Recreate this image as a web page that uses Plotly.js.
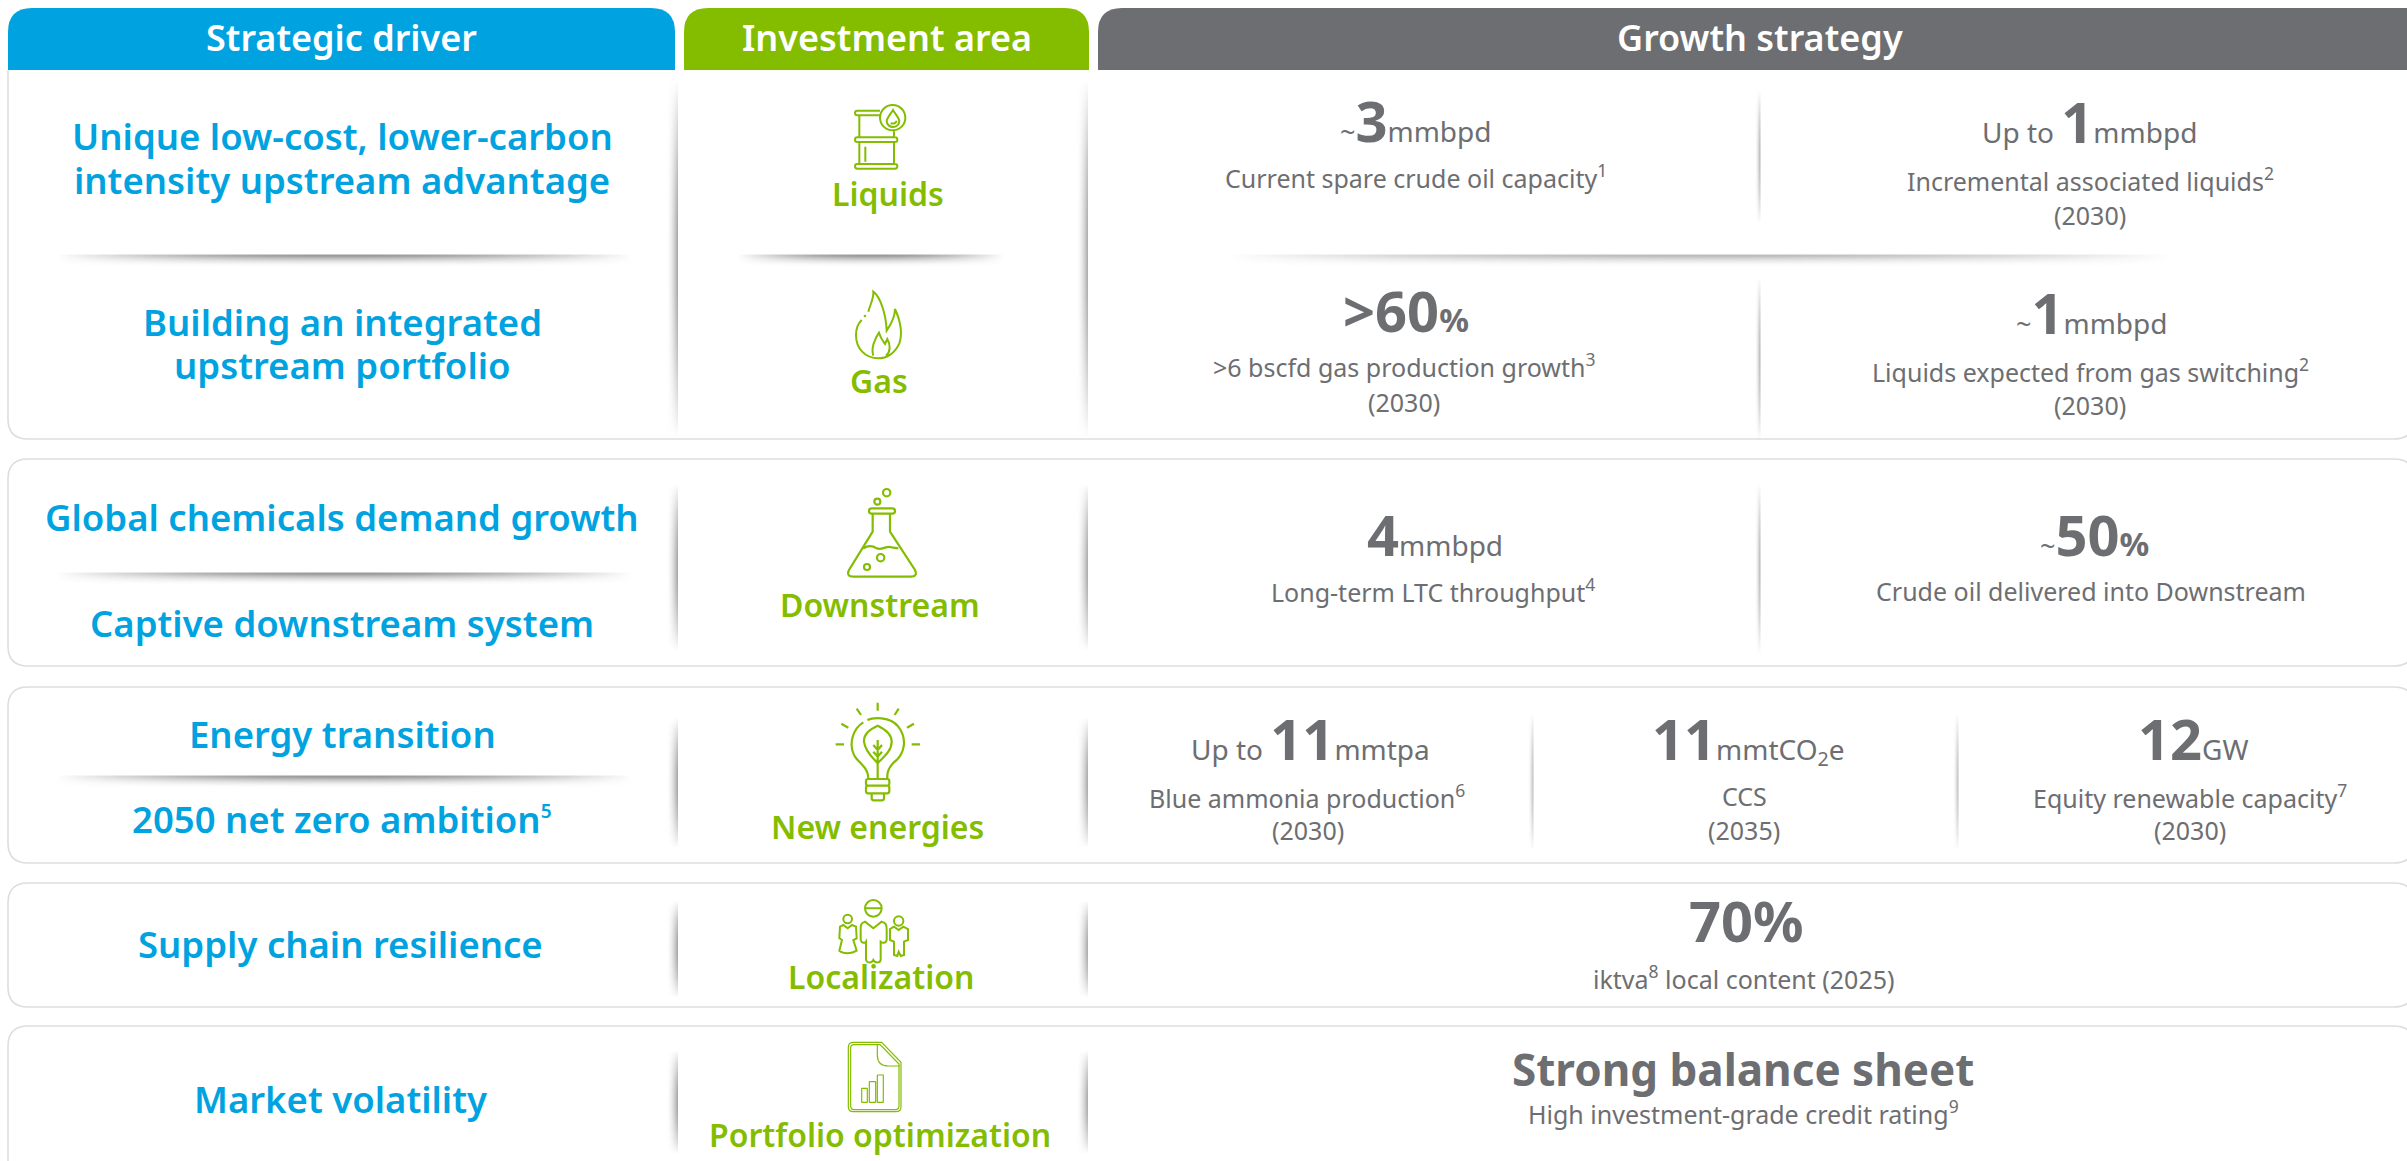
<!DOCTYPE html>
<html><head><meta charset="utf-8">
<script src="https://cdn.plot.ly/plotly-3.0.1.min.js"></script>
<style>html,body{margin:0;padding:0;background:#fff;overflow:hidden}</style>
</head><body><div id="chart" style="width:2407px;height:1161px"></div>
<script>
const BLUE='#00A3E0',GREEN='#84BD00',GRAY='#6D6E71',FONT='"Noto Sans","Open Sans",sans-serif';

// ---- text content ----
const headerLabels=['Strategic driver','Investment area','Growth strategy'];
const driverLabels=['Unique low-cost, lower-carbon','intensity upstream advantage','Building an integrated','upstream portfolio','Global chemicals demand growth','Captive downstream system','Energy transition','2050 net zero ambition<sup><span style="font-size:19px">5</span></sup>','Supply chain resilience','Market volatility'];
const areaLabels=['Liquids','Gas','Downstream','New energies','Localization','Portfolio optimization'];
const metricPrefix=['~','Up to ','>','~','','~','Up to ','','','',];
const metricValue=['3','1','60','1','4','50','11','11','12','70'];
const metricUnit=['mmbpd','mmbpd','%','mmbpd','mmbpd','%','mmtpa','mmtCO<sub>2</sub>e','GW','%'];
const metricDetail=['Current spare crude oil capacity<sup>1</sup>','Incremental associated liquids<sup>2</sup>','>6 bscfd gas production growth<sup>3</sup>','Liquids expected from gas switching<sup>2</sup>','Long-term LTC throughput<sup>4</sup>','Crude oil delivered into Downstream','Blue ammonia production<sup>6</sup>','CCS','Equity renewable capacity<sup>7</sup>','iktva<sup>8</sup> local content (2025)'];
const metricYear=['','(2030)','(2030)','(2030)','','','(2030)','(2035)','(2030)',''];
const balanceTitle='Strong balance sheet';
const balanceDetail='High investment-grade credit rating<sup>9</sup>';

// ---- layout positions (pixels of the 2407x1161 canvas) ----
const headerX=[341,887,1760];
const driverX=[342,342,342,342,342,342,342,342,340,340];
const driverY=[136,180,322,365,517,623,734,819,944,1099];
const areaX=[888,879,880,877,881,880];
const areaY=[193,380,604,826,976,1134];
const metricX=[1416,2089,1406,2092,1435,2094,1310,1748,2193,1746];
const metricBase=[141,142,331,333,555,555,759,759,759,941];
const detailX=[1416,2090,1404,2090,1433,2091,1307,1744,2190,1744];
const detailY=[176,179,365,370,590,591,796,796,796,977];
const yearX=[0,2090,1404,2090,0,0,1308,1744,2190,0];
const yearY=[0,215,402,405,0,0,830,830,830,0];

const ann=[];
function note(text,x,y,size,color,weight,yanchor){
  ann.push({text,x,y,xref:'x',yref:'y',showarrow:false,xanchor:'center',yanchor:yanchor||'middle',
    font:{family:FONT,size,color,weight:weight||400},borderpad:0,captureevents:false});
}
headerLabels.forEach((t,i)=>note(t,headerX[i],37,36,'#ffffff',600));
driverLabels.forEach((t,i)=>note(t,driverX[i],driverY[i],36.5,BLUE,600));
areaLabels.forEach((t,i)=>note(t,areaX[i],areaY[i],32,GREEN,600));
metricValue.forEach((v,i)=>{
  const pfx=metricPrefix[i];
  let p='';
  if(pfx==='>') p=`<b><span style="font-size:56px">&gt;</span></b>`;
  else if(pfx==='~') p=`<span style="font-size:27px">~</span>`;
  else if(pfx) p=`<span style="font-size:28px">${pfx}</span>`;
  const u=metricUnit[i];
  let us=`<span style="font-size:28px">${u}</span>`;
  if(u==='%') us = i===9 ? `<b><span style="font-size:56px">%</span></b>` : `<b><span style="font-size:33px">%</span></b>`;
  note(p+`<b><span style="font-size:56px">${v}</span></b>`+us,metricX[i],metricBase[i]-21,28,GRAY,400);
  note(metricDetail[i],detailX[i],detailY[i],25,GRAY,400);
  if(metricYear[i]) note(metricYear[i],yearX[i],yearY[i],25,GRAY,400);
});
note(balanceTitle,1743,1069,44,GRAY,700);
note(balanceDetail,1743,1112,25,GRAY,400);

// ---- shapes ----
const shapes=[];
function roundTop(x0,x1,y0,y1,r,color){
  shapes.push({type:'path',layer:'below',path:`M ${x0} ${y1} L ${x0} ${y0+r} Q ${x0} ${y0} ${x0+r} ${y0} L ${x1-r} ${y0} Q ${x1} ${y0} ${x1} ${y0+r} L ${x1} ${y1} Z`,fillcolor:color,line:{width:0}});
}
roundTop(8,675,8,70,24,BLUE);
roundTop(684,1089,8,70,24,GREEN);
roundTop(1098,2440,8,70,24,GRAY);
const R=20,PX0=8,PX1=2414,PLINE='#dedede';
function panel(y0,y1,openTop){
  const d=openTop?`M ${PX0} ${y0} L ${PX0} ${y1-R} Q ${PX0} ${y1} ${PX0+R} ${y1} L ${PX1-R} ${y1} Q ${PX1} ${y1} ${PX1} ${y1-R}`
    :`M ${PX1} ${y0+R} Q ${PX1} ${y0} ${PX1-R} ${y0} L ${PX0+R} ${y0} Q ${PX0} ${y0} ${PX0} ${y0+R} L ${PX0} ${y1-R} Q ${PX0} ${y1} ${PX0+R} ${y1} L ${PX1-R} ${y1} Q ${PX1} ${y1} ${PX1} ${y1-R}`;
  shapes.push({type:'path',layer:'below',path:d,line:{color:PLINE,width:1.6},fillcolor:'rgba(0,0,0,0)'});
}
panel(70,439,true);panel(459,666);panel(687,863);panel(883,1007);panel(1026,1190);

// icon paths are written in 3x-zoom units and placed with an offset
function place(d,ox,oy){let n=0;return d.replace(/-?\d+(\.\d+)?/g,m=>{const v=parseFloat(m)/3+(n++%2?oy:ox);return v.toFixed(2);});}
function circ(cx,cy,r){const k=r*0.5523;return `M ${cx-r} ${cy} C ${cx-r} ${cy-k} ${cx-k} ${cy-r} ${cx} ${cy-r} C ${cx+k} ${cy-r} ${cx+r} ${cy-k} ${cx+r} ${cy} C ${cx+r} ${cy+k} ${cx+k} ${cy+r} ${cx} ${cy+r} C ${cx-k} ${cy+r} ${cx-r} ${cy+k} ${cx-r} ${cy} Z `;}
function rrect(a,b,c,d,r){return `M ${a+r} ${b} L ${c-r} ${b} Q ${c} ${b} ${c} ${b+r} L ${c} ${d-r} Q ${c} ${d} ${c-r} ${d} L ${a+r} ${d} Q ${a} ${d} ${a} ${d-r} L ${a} ${b+r} Q ${a} ${b} ${a+r} ${b} Z `;}
function icon(d,ox,oy,w){shapes.push({type:'path',layer:'above',path:place(d,ox,oy),line:{color:GREEN,width:w||2},fillcolor:'rgba(0,0,0,0)'});}
// barrel
icon('M 300 62 L 232 62 Q 225 62 225 69 Q 225 76 232 76 L 302 76 '+rrect(225,142,352,156,7)+rrect(225,222,352,236,7)+'M 238 76 L 238 142 M 238 156 L 238 222 M 342 120 L 342 142 M 342 156 L 342 222 M 256 170 L 256 215 '+circ(338,83,38)+'M 339 60 C 330 75 320 85 320 93 C 320 104 330 111 339 111 C 349 111 358 104 358 93 C 358 85 348 75 339 60 Z M 332 100 C 340 102 348 100 350 92',780,90);
// flame
icon('M 265 665 C 270 645 282 625 280 605 C 300 620 318 670 320 722 C 335 700 345 680 345 657 C 360 690 368 730 358 760 C 345 790 320 805 295 805 C 255 805 228 775 228 735 C 228 715 235 700 245 690 M 252 680 L 258 676 M 280 797 C 272 775 285 745 297 728 C 302 745 310 755 315 762 L 322 747 C 332 765 332 785 318 797',780,90);
// flask
icon(rrect(267,85,345,101,8)+'M 278 101 L 278 155 L 207 270 Q 198 290 220 290 L 392 290 Q 414 290 405 270 L 330 155 L 330 101 M 250 205 C 265 195 280 198 290 205 C 305 212 320 195 335 202 L 355 205 '+circ(302,233,11)+circ(261,261,9)+circ(292,65,9)+circ(320,38,11),780,480,2.2);
// bulb
icon('M 293 668 L 293 692 M 230 686 L 243 705 M 356 686 L 344 705 M 184 731 L 205 743 M 402 731 L 381 743 M 167 793 L 192 793 M 395 793 L 420 793 M 262 720 C 278 712 330 708 355 740 C 385 780 370 820 350 840 C 330 855 320 870 322 895 M 250 727 C 220 745 205 790 222 825 C 235 850 265 860 265 895 '+rrect(258,897,328,917,6)+rrect(258,917,328,940,6)+'M 275 940 L 275 955 Q 275 961 281 961 L 306 961 Q 312 961 312 955 L 312 940 M 293 737 C 275 745 250 760 252 785 C 255 815 280 835 293 850 C 306 835 335 815 335 785 C 335 760 310 745 293 737 Z M 293 780 L 293 897 M 280 795 L 293 810 L 306 795 M 280 815 L 293 830 L 306 815',780,480,2.2);
// people
icon(circ(280,85,25)+'M 255 85 L 305 85 M 255 125 C 240 130 242 140 242 150 L 242 180 C 245 190 255 190 258 185 L 258 240 C 262 250 275 250 280 240 C 285 250 300 250 302 240 L 302 185 C 308 190 318 190 320 180 L 320 150 C 320 135 318 128 305 125 L 280 145 Z '+circ(203,117,13)+'M 190 135 L 180 140 L 178 175 L 186 180 L 178 212 C 190 222 215 222 230 212 L 220 180 L 230 175 L 228 140 L 216 135 L 203 145 Z '+circ(356,123,14)+'M 342 140 L 330 147 L 330 180 L 342 185 L 342 225 L 352 228 L 356 215 L 362 228 L 372 225 L 372 185 L 384 180 L 384 147 L 370 140 L 356 150 Z',780,880,2);
// document
icon('M 220 487 L 305 487 L 363 547 L 363 680 Q 363 695 348 695 L 220 695 Q 205 695 205 680 L 205 502 Q 205 487 220 487 Z M 222 494 L 300 494 L 357 552 L 357 678 Q 357 689 346 689 L 222 689 Q 212 689 212 678 L 212 504 Q 212 494 222 494 Z M 292 492 L 292 525 Q 292 558 325 558 L 360 558 '+rrect(245,625,262,667,1)+rrect(268,605,287,667,1)+rrect(292,585,310,667,1),780,880,1.2);

// ---- soft dividers, each drawn as a small alpha heatmap ----
const traces=[];
function softV(x,y0,y1,width,peak){ // sharp right edge, fades left
  const xs=[],ys=[],z=[],nx=width,ny=50;
  for(let i=0;i<=nx;i++)xs.push(x-width+i);
  for(let j=0;j<=ny;j++){const t=j/ny;ys.push(y0+(y1-y0)*t);
    const along=Math.pow(Math.sin(Math.PI*t),0.9);
    z.push(xs.map((_,i)=>peak*along*Math.pow(i/nx,1.8)));}
  pushHeat(xs,ys,z);
}
function softH(y,x0,x1,height,peak){ // sharp top edge, fades down
  const xs=[],ys=[],z=[],ny=height,nx=80;
  for(let i=0;i<=nx;i++)xs.push(x0+(x1-x0)*i/nx);
  for(let j=0;j<=ny;j++)ys.push(y+j);
  ys.forEach((_,j)=>z.push(xs.map((_,i)=>peak*Math.pow(Math.sin(Math.PI*i/nx),0.9)*Math.pow(1-j/ny,1.8))));
  pushHeat(xs,ys,z);
}
function pushHeat(x,y,z){
  traces.push({type:'heatmap',x,y,z,zmin:0,zmax:1,zsmooth:'best',showscale:false,hoverinfo:'skip',
    colorscale:[[0,'rgba(120,120,120,0)'],[1,'rgba(120,120,120,1)']]});
}
[[80,437],[483,650],[717,847],[900,997],[1050,1153]].forEach(([a,b])=>{softV(677.5,a,b,12,0.75);softV(1087.5,a,b,12,0.7);});
[[90,223],[277,440],[483,653]].forEach(([a,b])=>softV(1760,a,b,6,0.75));
softV(1533,713,850,6,0.65);softV(1958,713,850,6,0.65);
softH(255,56,632,11,0.75);softH(255,737,1003,11,0.75);softH(255,1230,2170,11,0.5);
softH(573,56,632,11,0.75);softH(776,56,632,11,0.75);

const layout={width:2407,height:1161,margin:{l:0,r:0,t:0,b:0,pad:0},paper_bgcolor:'#ffffff',plot_bgcolor:'#ffffff',showlegend:false,
  xaxis:{range:[0,2407],visible:false,fixedrange:true},
  yaxis:{range:[1161,0],visible:false,fixedrange:true},
  shapes,annotations:ann};
Plotly.newPlot('chart',traces,layout,{displayModeBar:false,staticPlot:true});
</script></body></html>
